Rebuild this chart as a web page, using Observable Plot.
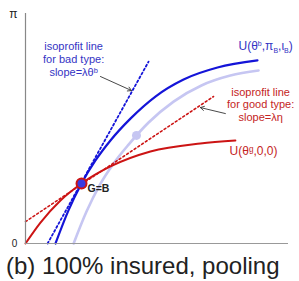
<!DOCTYPE html>
<html><head><meta charset="utf-8">
<script src="https://cdn.jsdelivr.net/npm/d3@7"></script>
<script src="https://cdn.jsdelivr.net/npm/@observablehq/plot@0.6"></script>
<style>
body{margin:0;background:#fff;font-family:"Liberation Sans",Arial,sans-serif;}
#wrap{position:relative;width:299px;height:281px;}
#cap{position:absolute;left:6px;top:252px;font-size:24px;line-height:27px;color:#222;white-space:nowrap;}
</style></head>
<body><div id="wrap"><div id="chart"></div><div id="cap">(b) 100% insured, pooling</div></div>
<script>
// U(θg,0,0) – good type utility curve
const goodX = [0, 0.57, 1.33, 2.13, 3.23, 4.75, 6.65, 7.98];
const goodY = [0, 0.91, 1.87, 2.61, 3.35, 4.00, 4.35, 4.48];
// U(θb,πB,ιB) – bad type utility curve
const badX = [1.14, 1.63, 2.13, 2.66, 3.23, 3.99, 4.94, 6.01, 7.30, 8.82];
const badY = [0, 1.43, 2.61, 3.61, 4.48, 5.43, 6.39, 7.13, 7.65, 7.96];
// light (reference) bad-type curve
const lightX = [1.83, 2.32, 2.81, 3.35, 3.92, 4.68, 5.63, 6.69, 7.79, 8.86];
const lightY = [0, 1.39, 2.52, 3.48, 4.30, 5.26, 6.17, 6.87, 7.30, 7.52];
// isoprofit lines
const isoBadX = [0.84, 4.68], isoBadY = [0, 7.91];
const isoGoodX = [0, 7.15], isoGoodY = [0.95, 6.39];
// points
const poolPoint = {x: 2.13, y: 2.61};
const lightPoint = {x: 4.22, y: 4.70};

const zip = (xs, ys) => xs.map((x, i) => ({x, y: ys[i]}));
const BLUE = "#1414d8", RED = "#cc1414", LIGHT = "#c6c6f2", TBLUE = "#3434c4", TRED = "#c42424";

const plot = Plot.plot({
  width: 299, height: 250,
  marginLeft: 25, marginRight: 11, marginTop: 13, marginBottom: 7,
  x: {domain: [0, 10], axis: null},
  y: {domain: [0, 10], axis: null},
  style: {fontFamily: "Liberation Sans, Arial, sans-serif", background: "white"},
  marks: [
    Plot.line(zip(lightX, lightY), {x: "x", y: "y", stroke: LIGHT, strokeWidth: 2.6, curve: "monotone-x"}),
    Plot.line(zip(goodX, goodY), {x: "x", y: "y", stroke: RED, strokeWidth: 2, curve: "monotone-x"}),
    Plot.line(zip(badX, badY), {x: "x", y: "y", stroke: BLUE, strokeWidth: 2.2, curve: "monotone-x"}),
    Plot.line(zip(isoBadX, isoBadY), {x: "x", y: "y", stroke: BLUE, strokeWidth: 1.8, strokeDasharray: "2,2.5"}),
    Plot.line(zip(isoGoodX, isoGoodY), {x: "x", y: "y", stroke: RED, strokeWidth: 1.6, strokeDasharray: "2,2.5"}),
    Plot.ruleX([0], {y1: 0, y2: 10, stroke: "#888", strokeWidth: 1.2}),
    Plot.ruleY([0], {x1: 0, x2: 10, stroke: "#999", strokeWidth: 1.2}),
    Plot.dot([lightPoint], {x: "x", y: "y", r: 4.5, fill: LIGHT, stroke: "none"}),
    Plot.dot([poolPoint], {x: "x", y: "y", r: 5, fill: "#3a3ae0", stroke: RED, strokeWidth: 2}),
    Plot.text(["G=B"], {x: 2.36, y: 2.39, text: d => d, textAnchor: "start", fontWeight: "bold", fontSize: 10.5, fill: "#222"}),
    Plot.text(["π"], {x: -0.46, y: 9.96, text: d => d, fontSize: 12, fill: "#222"}),
    Plot.text(["0"], {x: -0.42, y: 0, text: d => d, fontSize: 10, fill: "#222"}),
    Plot.text(["isoprofit line\nfor bad type:\nslope=λθᵇ"], {x: 1.83, y: 8.04, text: d => d, fontSize: 11, lineHeight: 1.18, fill: TBLUE}),
    Plot.text(["isoprofit line\nfor good type:\nslope=λη"], {x: 8.94, y: 6.04, text: d => d, fontSize: 11, lineHeight: 1.1, fill: TRED}),
    Plot.text(["ULBLUE"], {x: 9.13, y: 8.57, text: d => d, fontSize: 12, fill: TBLUE}),
    Plot.text(["U(θᵍ,0,0)"], {x: 8.67, y: 4.0, text: d => d, fontSize: 12, fill: TRED}),
    Plot.arrow([{x1: 2.85, y1: 7.26, x2: 4.03, y2: 6.65}], {x1: "x1", y1: "y1", x2: "x2", y2: "y2", stroke: "#333", strokeWidth: 0.9, headLength: 7}),
    Plot.arrow([{x1: 7.60, y1: 5.65, x2: 6.65, y2: 5.91}], {x1: "x1", y1: "y1", x2: "x2", y2: "y2", stroke: "#333", strokeWidth: 0.9, headLength: 7})
  ]
});
document.getElementById("chart").appendChild(plot);
d3.select(plot).selectAll("text").filter(function(){ return this.textContent === "ULBLUE"; })
  .each(function(){
    const t = d3.select(this); t.text("");
    t.append("tspan").text("U(θ");
    t.append("tspan").attr("font-size", 7).attr("dy", -4).text("b");
    t.append("tspan").attr("dy", 4).text(",π");
    t.append("tspan").attr("font-size", 7).attr("dy", 3).text("B");
    t.append("tspan").attr("dy", -3).text(",ι");
    t.append("tspan").attr("font-size", 7).attr("dy", 3).text("B");
    t.append("tspan").attr("dy", -3).text(")");
  });
</script></body></html>
